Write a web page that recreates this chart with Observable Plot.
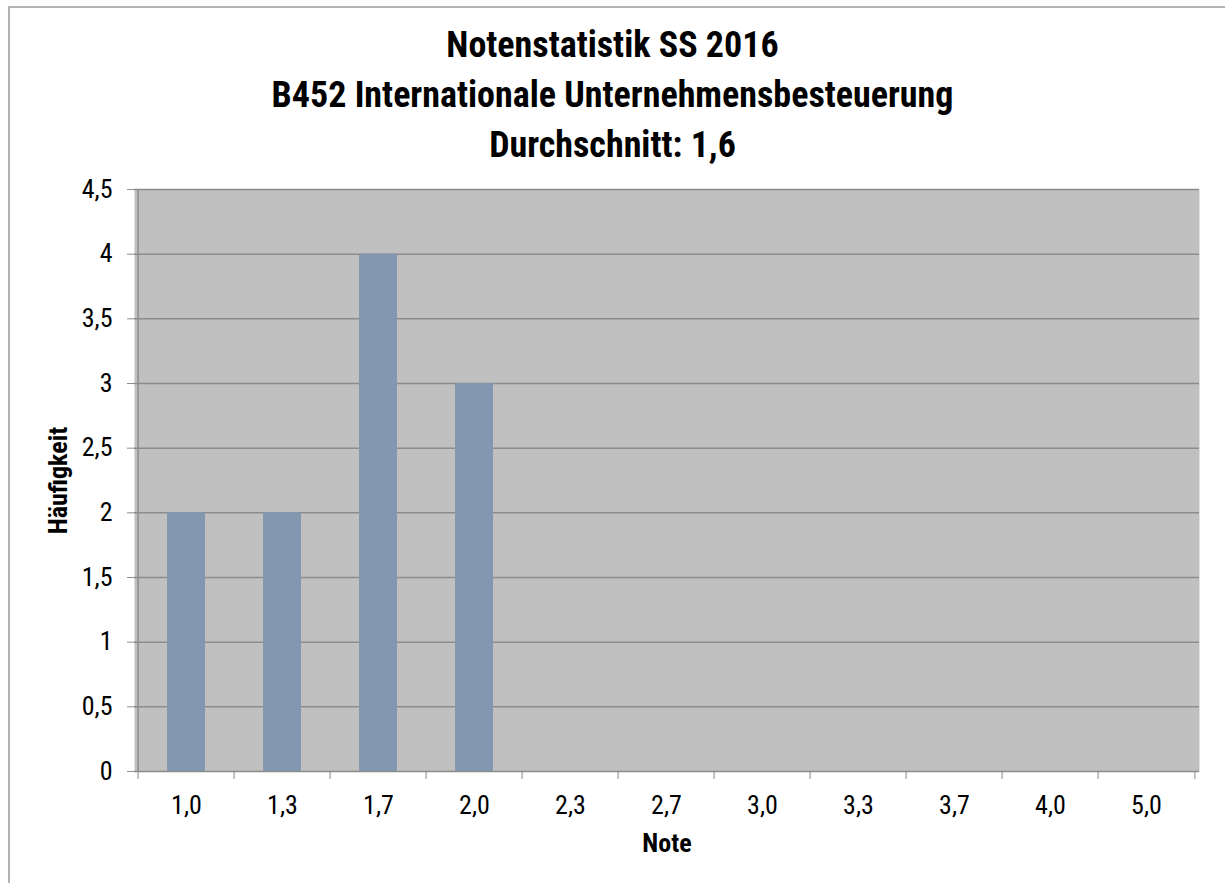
<!DOCTYPE html>
<html>
<head>
<meta charset="utf-8">
<script src="https://cdn.jsdelivr.net/npm/d3@7"></script>
<script src="https://cdn.jsdelivr.net/npm/@observablehq/plot@0.6"></script>
<style>
  html, body { margin: 0; padding: 0; background: #fff; }
  body { width: 1225px; height: 883px; overflow: hidden; position: relative;
         font-family: "Liberation Sans Narrow", "Arial Narrow", "Roboto Condensed", "Liberation Sans", sans-serif; }
  #frame { position: absolute; left: 8px; top: 6px; width: 1240px; height: 900px;
           border-top: 2px solid #b3b3b3; border-left: 2px solid #b3b3b3; box-sizing: border-box; }
  #title { position: absolute; left: 0; top: 20px; width: 1225px; text-align: center;
           font-weight: bold; font-size: 36px; line-height: 50px; color: #000; }
  #chart { position: absolute; left: 0; top: 170px; }
</style>
</head>
<body>
<div id="frame"></div>
<div id="title"></div>
<div id="chart"></div>
<script>
const titleLines = ["Notenstatistik SS 2016", "B452 Internationale Unternehmensbesteuerung", "Durchschnitt: 1,6"];
const grades = ["1,0", "1,3", "1,7", "2,0", "2,3", "2,7", "3,0", "3,3", "3,7", "4,0", "5,0"];
const counts = [2, 2, 4, 3, 0, 0, 0, 0, 0, 0, 0];
const yTicks = [0, 0.5, 1, 1.5, 2, 2.5, 3, 3.5, 4, 4.5];
const xLabel = "Note";
const yLabel = "Häufigkeit";

document.getElementById("title").innerHTML = titleLines.map(t => `<div>${t}</div>`).join("");

const data = grades.map((g, i) => ({grade: g, count: counts[i]}));

const W = 1225, H = 713;
const ml = 134, mr = 26, mt = 19, mb = 112;
const step = (W - ml - mr) / grades.length;
const fmt = d => String(d).replace(".", ",");
const font = '"Liberation Sans Narrow", "Arial Narrow", "Roboto Condensed", "Liberation Sans", sans-serif';

const chart = Plot.plot({
  width: W, height: H,
  marginLeft: ml, marginRight: mr, marginTop: mt, marginBottom: mb,
  style: {fontFamily: font, fontSize: "26px", color: "#000", background: "transparent"},
  x: {domain: grades, paddingInner: 0.6, paddingOuter: 0.3, label: null},
  y: {domain: [0, 4.5], label: null},
  marks: [
    Plot.frame({fill: "#c0c0c0", stroke: null}),
    Plot.ruleY(yTicks, {stroke: "#8c8c8c", strokeWidth: 1.5}),
    Plot.barY(data, {x: "grade", y: "count", fill: "#8497b0"}),
    Plot.ruleX([0], {x: () => grades[0], dx: -step / 2, y1: 0, y2: 4.5, stroke: "#8c8c8c", strokeWidth: 1.5}),
    Plot.axisY({ticks: yTicks, tickFormat: fmt, tickSize: 7, tickPadding: 15, stroke: "#8c8c8c", fill: "#000", fontSize: 26}),
    Plot.axisX({tickSize: 0, tickPadding: 24, fill: "#000", fontSize: 26}),
    Plot.axisX({tickSize: 8, tickFormat: () => "", dx: -step / 2, stroke: "#8c8c8c"}),
    Plot.axisX({ticks: [grades[grades.length - 1]], tickSize: 8, tickFormat: () => "", dx: step / 2, stroke: "#8c8c8c"}),
    Plot.text([xLabel], {frameAnchor: "bottom", dy: 80, fontWeight: "bold", fontSize: 26, fill: "#000"}),
    Plot.text([yLabel], {frameAnchor: "left", textAnchor: "middle", dx: -76, rotate: -90, fontWeight: "bold", fontSize: 26, fill: "#000"})
  ]
});
document.getElementById("chart").appendChild(chart);
</script>
</body>
</html>
